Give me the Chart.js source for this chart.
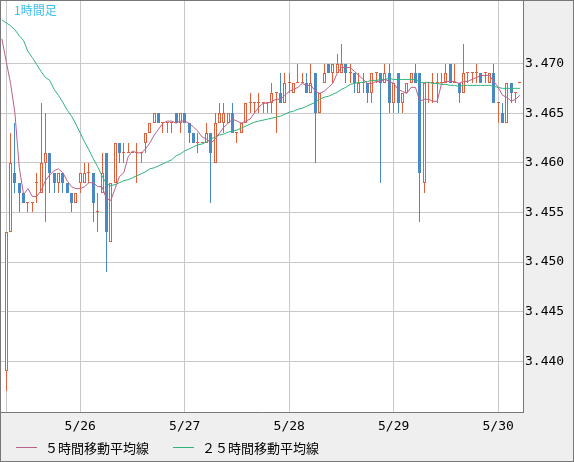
<!DOCTYPE html>
<html>
<head>
<meta charset="utf-8">
<script src="https://cdn.jsdelivr.net/npm/chart.js@4"></script>
<style>
  html, body { margin: 0; padding: 0; background: #efefef; }
  canvas { display: block; }
</style>
</head>
<body>
<canvas id="candle-chart" width="574" height="462"></canvas>
<script>
// hourly candles, 5/25 07:00 .. 5/30 05:00 (index = hour number)
const opens = [
  3.439, 3.453, 3.459, 3.458, 3.457, 3.456, 3.456, 3.458, 3.457, 3.460,
  3.461, 3.459, 3.458, 3.459, 3.458, 3.457, 3.456, 3.458, 3.458, 3.459,
  3.459, 3.455, 3.457, 3.461, 3.452, 3.458, 3.462, 3.461, 3.461, 3.461,
  3.461, 3.461, 3.462, 3.463, 3.464, 3.465, 3.464, 3.464, 3.464, 3.465,
  3.464, 3.465, 3.464, 3.463, 3.462, 3.462, 3.462, 3.463, 3.460, 3.464,
  3.464, 3.464, 3.465, 3.463, 3.463, 3.464, 3.466, 3.466, 3.466, 3.466,
  3.466, 3.466, 3.467, 3.467, 3.466, 3.468, 3.467, 3.468, 3.468, 3.468,
  3.467, 3.469, 3.465, 3.468, 3.470, 3.469, 3.469, 3.469, 3.470, 3.469,
  3.469, 3.467, 3.468, 3.468, 3.467, 3.469, 3.469, 3.468, 3.469, 3.466,
  3.469, 3.466, 3.467, 3.468, 3.469, 3.469, 3.458, 3.468, 3.468, 3.468,
  3.468, 3.468, 3.470, 3.468, 3.468, 3.467, 3.469, 3.469, 3.469, 3.469,
  3.469, 3.468, 3.469, 3.466, 3.465, 3.464, 3.468, 3.467, 3.468
];
const highs = [
  3.453, 3.463, 3.464, 3.458, 3.457, 3.456, 3.456, 3.459, 3.466, 3.465,
  3.461, 3.459, 3.459, 3.459, 3.458, 3.457, 3.457, 3.459, 3.460, 3.460,
  3.459, 3.457, 3.461, 3.461, 3.458, 3.462, 3.462, 3.462, 3.462, 3.461,
  3.462, 3.461, 3.463, 3.464, 3.465, 3.465, 3.464, 3.464, 3.464, 3.465,
  3.465, 3.465, 3.464, 3.463, 3.463, 3.462, 3.464, 3.463, 3.465, 3.466,
  3.466, 3.465, 3.466, 3.463, 3.464, 3.466, 3.467, 3.466, 3.467, 3.466,
  3.466, 3.468, 3.467, 3.469, 3.469, 3.469, 3.468, 3.470, 3.469, 3.469,
  3.470, 3.469, 3.467, 3.470, 3.470, 3.470, 3.471, 3.472, 3.470, 3.470,
  3.469, 3.469, 3.469, 3.468, 3.469, 3.469, 3.469, 3.470, 3.470, 3.468,
  3.469, 3.467, 3.468, 3.469, 3.470, 3.469, 3.468, 3.468, 3.469, 3.469,
  3.469, 3.470, 3.470, 3.470, 3.468, 3.472, 3.469, 3.469, 3.470, 3.469,
  3.469, 3.469, 3.470, 3.466, 3.466, 3.468, 3.468, 3.467, 3.468
];
const lows = [
  3.437, 3.453, 3.457, 3.455, 3.456, 3.455, 3.455, 3.456, 3.457, 3.454,
  3.457, 3.457, 3.457, 3.457, 3.457, 3.455, 3.456, 3.457, 3.458, 3.458,
  3.454, 3.453, 3.457, 3.449, 3.452, 3.458, 3.460, 3.460, 3.461, 3.461,
  3.458, 3.460, 3.461, 3.463, 3.464, 3.464, 3.463, 3.463, 3.463, 3.464,
  3.463, 3.464, 3.462, 3.462, 3.461, 3.462, 3.462, 3.456, 3.460, 3.464,
  3.463, 3.464, 3.463, 3.462, 3.463, 3.464, 3.465, 3.465, 3.465, 3.465,
  3.465, 3.465, 3.463, 3.466, 3.466, 3.467, 3.467, 3.468, 3.468, 3.467,
  3.467, 3.460, 3.465, 3.468, 3.469, 3.468, 3.469, 3.469, 3.468, 3.468,
  3.467, 3.467, 3.467, 3.466, 3.466, 3.468, 3.458, 3.468, 3.465, 3.465,
  3.465, 3.465, 3.467, 3.468, 3.468, 3.454, 3.457, 3.466, 3.466, 3.466,
  3.468, 3.468, 3.468, 3.468, 3.466, 3.467, 3.468, 3.468, 3.468, 3.468,
  3.468, 3.468, 3.466, 3.464, 3.464, 3.464, 3.466, 3.466, 3.468
];
const closes = [
  3.453, 3.460, 3.458, 3.457, 3.456, 3.456, 3.456, 3.458, 3.460, 3.461,
  3.459, 3.458, 3.459, 3.458, 3.457, 3.456, 3.457, 3.459, 3.459, 3.459,
  3.456, 3.455, 3.459, 3.453, 3.458, 3.462, 3.461, 3.461, 3.461, 3.461,
  3.461, 3.461, 3.463, 3.464, 3.465, 3.464, 3.464, 3.464, 3.464, 3.464,
  3.465, 3.464, 3.463, 3.462, 3.462, 3.462, 3.463, 3.461, 3.464, 3.465,
  3.465, 3.465, 3.463, 3.463, 3.464, 3.466, 3.466, 3.466, 3.466, 3.466,
  3.466, 3.467, 3.467, 3.466, 3.468, 3.468, 3.468, 3.468, 3.468, 3.467,
  3.468, 3.465, 3.467, 3.469, 3.469, 3.470, 3.470, 3.470, 3.469, 3.469,
  3.468, 3.468, 3.468, 3.467, 3.469, 3.469, 3.468, 3.469, 3.466, 3.468,
  3.466, 3.467, 3.468, 3.469, 3.468, 3.459, 3.468, 3.468, 3.468, 3.468,
  3.468, 3.469, 3.468, 3.468, 3.467, 3.469, 3.469, 3.469, 3.469, 3.468,
  3.469, 3.469, 3.466, 3.466, 3.464, 3.468, 3.467, 3.467, 3.468
];
// moving averages start one hour before the first candle (index -1)
const ma5 = [
  3.4725, 3.4702, 3.4680, 3.4650, 3.4595,
  3.4568, 3.4574, 3.4566, 3.4566, 3.4572, 3.4582, 3.4588, 3.4592, 3.4594, 3.4590,
  3.4582, 3.4576, 3.4574, 3.4574, 3.4576, 3.4580, 3.4580, 3.4576, 3.4576, 3.4564,
  3.4562, 3.4574, 3.4586, 3.4590, 3.4606, 3.4612, 3.4610, 3.4610, 3.4614, 3.4620,
  3.4628, 3.4634, 3.4640, 3.4642, 3.4642, 3.4640, 3.4642, 3.4642, 3.4640, 3.4636,
  3.4632, 3.4626, 3.4624, 3.4620, 3.4624, 3.4630, 3.4636, 3.4640, 3.4644, 3.4642,
  3.4640, 3.4642, 3.4644, 3.4650, 3.4656, 3.4660, 3.4660, 3.4662, 3.4664, 3.4664,
  3.4668, 3.4672, 3.4674, 3.4676, 3.4680, 3.4678, 3.4678, 3.4672, 3.4670, 3.4672,
  3.4676, 3.4680, 3.4690, 3.4696, 3.4696, 3.4696, 3.4692, 3.4688, 3.4684, 3.4680,
  3.4680, 3.4682, 3.4682, 3.4684, 3.4682, 3.4680, 3.4674, 3.4672, 3.4670, 3.4676,
  3.4676, 3.4662, 3.4664, 3.4664, 3.4662, 3.4662, 3.4680, 3.4682, 3.4682, 3.4682,
  3.4680, 3.4682, 3.4682, 3.4684, 3.4686, 3.4688, 3.4688, 3.4688, 3.4682, 3.4676,
  3.4668, 3.4666, 3.4662, 3.4664, 3.4668
];
const ma25 = [
  3.4744, 3.4741, 3.4738, 3.4734, 3.4728, 3.4723, 3.4712, 3.4706, 3.4699, 3.4692,
  3.4686, 3.4683, 3.4674, 3.4668, 3.4661, 3.4653, 3.4647, 3.4639, 3.4630, 3.4621,
  3.4613, 3.4604, 3.4596, 3.4587, 3.4579, 3.4577, 3.4578, 3.4580, 3.4582, 3.4583,
  3.4585, 3.4587, 3.4589, 3.4591, 3.4594, 3.4595, 3.4597, 3.4599, 3.4601, 3.4603,
  3.4607, 3.4609, 3.4612, 3.4614, 3.4616, 3.4618, 3.4619, 3.4621, 3.4624, 3.4626,
  3.4628, 3.4629, 3.4631, 3.4632, 3.4633, 3.4635, 3.4637, 3.4639, 3.4641, 3.4642,
  3.4643, 3.4644, 3.4645, 3.4646, 3.4647, 3.4649, 3.4651, 3.4652, 3.4654, 3.4655,
  3.4657, 3.4659, 3.4661, 3.4664, 3.4666, 3.4667, 3.4669, 3.4671, 3.4674, 3.4676,
  3.4679, 3.4680, 3.4681, 3.4681, 3.4682, 3.4683, 3.4683, 3.4684, 3.4684, 3.4685,
  3.4684, 3.4684, 3.4684, 3.4684, 3.4684, 3.4684, 3.4681, 3.4681, 3.4681, 3.4680,
  3.4680, 3.4679, 3.4679, 3.4678, 3.4678, 3.4677, 3.4678, 3.4678, 3.4678, 3.4678,
  3.4678, 3.4678, 3.4678, 3.4677, 3.4676, 3.4675, 3.4675, 3.4675, 3.4675, 3.4675
];
const dayStarts = [0, 17, 41, 65, 89, 113];
const dayLabels = ["", "5/26", "5/27", "5/28", "5/29", "5/30"];
const priceTicks = [3.440, 3.445, 3.450, 3.455, 3.460, 3.465, 3.470];

const UP = "#e0603c";
const DOWN = "#4a8ac4";
const MA5_COLOR = "#b8628e";
const MA25_COLOR = "#2fb47c";
const GRID = "#c8c8c8";
const FRAME = "#787878";
const MONO = { family: "'DejaVu Sans Mono', monospace", size: 13 };

const isUp = (i) => closes[i] >= opens[i];

/* ============================================= */
/*          background, frame, title, legend     */
/* ============================================= */
const chartDecor = {
  id: "chartDecor",
  beforeDraw(chart) {
    const { ctx, chartArea: a, width, height } = chart;
    ctx.save();
    ctx.fillStyle = "#efefef";
    ctx.fillRect(0, 0, width, height);
    ctx.fillStyle = "#ffffff";
    ctx.fillRect(a.left, a.top, a.right - a.left, a.bottom - a.top);
    ctx.restore();
  },
  // snap the candle rectangles to whole pixels so they stay sharp
  beforeDatasetsDraw(chart) {
    chart.getSortedVisibleDatasetMetas().forEach((meta) => {
      if (meta.type !== "bar") return;
      meta.data.forEach((el) => {
        el.x = Math.floor(el.x) + 0.5;
        el.y = Math.round(el.y);
        el.base = Math.round(el.base);
      });
    });
  },
  afterDraw(chart) {
    const { ctx, width, height } = chart;
    ctx.save();
    ctx.strokeStyle = FRAME;
    ctx.lineWidth = 1;
    ctx.strokeRect(0.5, 0.5, width - 1, height - 1);

    ctx.font = "12px 'Noto Sans CJK JP'";
    ctx.fillStyle = "#3ec0ee";
    ctx.textBaseline = "middle";
    ctx.fillText("1時間足", 14, 10);

    ctx.font = "13px 'Noto Sans CJK JP'";
    let x = 16;
    chart.data.datasets.filter((d) => d.type === "line").forEach((d) => {
      ctx.strokeStyle = d.borderColor;
      ctx.beginPath();
      ctx.moveTo(x, 447.5);
      ctx.lineTo(x + 21, 447.5);
      ctx.stroke();
      ctx.fillStyle = "#000";
      ctx.fillText(d.label, x + 29, 448);
      x += 29 + ctx.measureText(d.label).width + 24;
    });
    ctx.restore();
  },
};

/* ============================================= */
/*                  Chart                        */
/* ============================================= */
const candleChart = new Chart(document.querySelector("#candle-chart"), {
  type: "bar",
  data: {
    datasets: [
      {
        type: "line",
        label: "５時間移動平均線",
        data: ma5.map((v, k) => ({ x: k - 1, y: v })),
        borderColor: MA5_COLOR,
        borderWidth: 1,
        pointRadius: 0,
        order: 0,
      },
      {
        type: "line",
        label: "２５時間移動平均線",
        data: ma25.map((v, k) => ({ x: k - 1, y: v })),
        borderColor: MA25_COLOR,
        borderWidth: 1,
        pointRadius: 0,
        order: 0,
      },
      {
        label: "body",
        data: opens.map((o, i) => ({ x: i, y: [o, closes[i]] })),
        backgroundColor: (c) => (isUp(c.dataIndex) ? "#ffffff" : DOWN),
        borderColor: (c) => (isUp(c.dataIndex) ? UP : DOWN),
        borderWidth: 1,
        borderSkipped: false,
        barThickness: 3,
        minBarLength: 1,
        inflateAmount: 0,
        grouped: false,
        order: 1,
      },
      {
        label: "wick",
        data: lows.map((l, i) => ({ x: i, y: [l, highs[i]] })),
        backgroundColor: (c) => (isUp(c.dataIndex) ? UP : DOWN),
        barThickness: 1,
        inflateAmount: 0,
        grouped: false,
        order: 2,
      },
    ],
  },
  options: {
    responsive: false,
    animation: false,
    events: [],
    layout: { padding: { top: 1, left: 1, right: 0, bottom: 0 } },
    scales: {
      x: {
        type: "linear",
        min: -1.2,
        max: 118.7,
        offset: false,
        afterBuildTicks: (s) => { s.ticks = dayStarts.map((v) => ({ value: v })); },
        afterFit: (s) => { s.height = 50; s.paddingLeft = 0; s.paddingRight = 0; },
        grid: { color: GRID, drawTicks: false, offset: false },
        border: { color: FRAME },
        ticks: {
          callback: (v, i) => dayLabels[i],
          autoSkip: false,
          maxRotation: 0,
          font: MONO,
          color: "#000",
          padding: 7,
        },
      },
      y: {
        position: "right",
        min: 3.4349,
        max: 3.4763,
        afterBuildTicks: (s) => { s.ticks = priceTicks.map((v) => ({ value: v })); },
        afterFit: (s) => { s.width = 51; s.paddingTop = 0; s.paddingBottom = 0; },
        grid: { color: GRID, drawTicks: false },
        border: { color: FRAME },
        ticks: {
          callback: (v) => v.toFixed(3),
          font: MONO,
          color: "#000",
          padding: 2,
        },
      },
    },
    plugins: {
      legend: { display: false },
      tooltip: { enabled: false },
    },
  },
  plugins: [chartDecor],
});
</script>
</body>
</html>
